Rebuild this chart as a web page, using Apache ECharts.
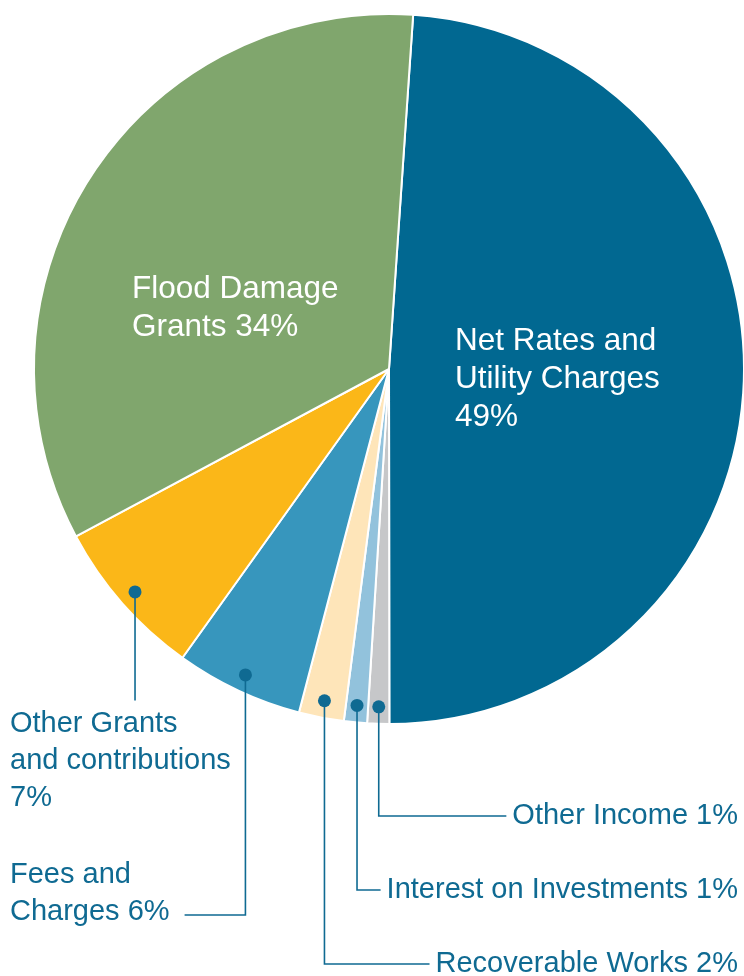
<!DOCTYPE html>
<html><head><meta charset="utf-8">
<script src="https://cdn.jsdelivr.net/npm/echarts@6/dist/echarts.min.js"></script>
<style>html,body{margin:0;padding:0;background:#fff}#c{width:744px;height:976px}</style>
</head><body><div id="c"></div>
<script>
// ---- data ----
const categories = ['Net Rates and Utility Charges', 'Other Income', 'Interest on Investments', 'Recoverable Works', 'Fees and Charges', 'Other Grants and contributions', 'Flood Damage Grants'];
const values = [48.9, 1.0, 1.05, 2.05, 5.8, 7.3, 33.9];
const labelTexts = ['Net Rates and\nUtility Charges\n49%', 'Other Income 1%', 'Interest on Investments 1%', 'Recoverable Works 2%', 'Fees and\nCharges 6%', 'Other Grants\nand contributions\n7%', 'Flood Damage\nGrants 34%'];

// ---- style / layout ----
const colors = ['#016891', '#c6c7c9', '#92c2dc', '#fee5b9', '#3796bd', '#fbb718', '#80a66d'];
const TEXT = '#0f6a92';
const FONT = 'Liberation Sans, Arial, sans-serif';
const CX = 389, CY = 369, R = 355, START = 86.1;
const total = values.reduce((a, b) => a + b, 0);
const mids = []; let cum = 0;
values.forEach(v => { mids.push(START - (cum + v / 2) / total * 360); cum += v; });
function pt(i, r) { const a = mids[i] * Math.PI / 180; return [CX + r * Math.cos(a), CY - r * Math.sin(a)]; }
const dots = values.map((v, i) => pt(i, R * 0.952));

const place = [
  { x: 455, y: 379, inside: true },
  { x: 738, y: 816, bend: 'right' },
  { x: 738, y: 890, bend: 'right' },
  { x: 738, y: 964, bend: 'right' },
  { x: 10, y: 893, bend: 'left', lineY: 915 },
  { x: 10, y: 761, bend: 'down' },
  { x: 132, y: 308, inside: true }
];

const common = {
  type: 'pie',
  center: [CX, CY],
  radius: [0, R],
  startAngle: START,
  clockwise: true,
  avoidLabelOverlap: false,
  silent: true,
  emphasis: { disabled: true }
};

const chart = echarts.init(document.getElementById('c'), null, { renderer: 'canvas' });
chart.setOption({
  animation: false,
  backgroundColor: '#fff',
  series: [
    Object.assign({}, common, {
      z: 1,
      itemStyle: { borderColor: '#fff', borderWidth: 2 },
      label: { show: false },
      labelLine: { show: false },
      data: categories.map((c, i) => ({ name: c, value: values[i], itemStyle: { color: colors[i] } }))
    }),
    Object.assign({}, common, {
      z: 5,
      itemStyle: { color: 'rgba(0,0,0,0)', borderWidth: 0 },
      label: {
        show: true, position: 'outside',
        fontFamily: FONT, fontSize: 29, lineHeight: 37, color: TEXT,
        formatter: p => labelTexts[p.dataIndex]
      },
      labelLine: { show: true, lineStyle: { color: TEXT, width: 1.6 } },
      data: categories.map((c, i) => ({
        name: c, value: values[i],
        label: place[i].inside ? { color: '#fff', fontSize: 31.5, lineHeight: 38 } : {},
        labelLine: place[i].inside ? { show: false } : {}
      })),
      labelLayout: function (params) {
        const i = params.dataIndex, p = place[i], d = dots[i];
        const w = params.labelRect.width, h = params.labelRect.height;
        if (p.inside) return { x: p.x, y: p.y, align: 'left', verticalAlign: 'middle' };
        if (p.bend === 'right') {
          const ex = p.x - w - 6;
          return { x: p.x, y: p.y, align: 'right', verticalAlign: 'middle',
            labelLinePoints: [[d[0], d[1]], [d[0], p.y], [ex, p.y]] };
        }
        if (p.bend === 'left') {
          const ex = p.x + w + 15;
          return { x: p.x, y: p.y, align: 'left', verticalAlign: 'middle',
            labelLinePoints: [[d[0], d[1]], [d[0], p.lineY], [ex, p.lineY]] };
        }
        const top = p.y - h / 2 - 5;
        return { x: p.x, y: p.y, align: 'left', verticalAlign: 'middle',
          labelLinePoints: [[d[0], d[1]], [d[0], top], [d[0], top]] };
      }
    })
  ],
  graphic: dots.map((d, i) => place[i].inside ? null : {
    type: 'circle', z: 100, shape: { cx: d[0], cy: d[1], r: 6.5 }, style: { fill: TEXT }
  }).filter(Boolean)
});
</script>
</body></html>
